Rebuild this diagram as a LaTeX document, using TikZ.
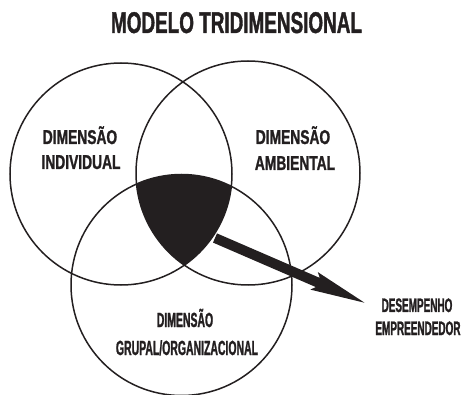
\documentclass[tikz,border=0pt]{standalone}
\usepackage{fontspec}
\setmainfont{Liberation Sans}
\newfontfamily\fTitle[FakeStretch=0.63,FakeBold=1.2]{Liberation Sans}
\newfontfamily\fTop[FakeStretch=0.69,FakeBold=1.2]{Liberation Sans}
\newfontfamily\fNarrow[FakeStretch=0.51,FakeBold=1.2]{Liberation Sans}
\definecolor{ink}{RGB}{35,31,32}
\tikzset{
  ring/.style={draw=ink, line width=1.5pt},
  titletext/.style={anchor=base, inner sep=0pt, text=ink, font=\fTitle\bfseries\fontsize{30}{30}\selectfont},
  toplabel/.style={anchor=base, inner sep=0pt, text=ink, font=\fTop\bfseries\fontsize{20}{20}\selectfont},
  botlabel/.style={anchor=base, inner sep=0pt, text=ink, font=\fNarrow\bfseries\fontsize{20.5}{20.5}\selectfont},
  outlabel/.style={anchor=base, inner sep=0pt, text=ink, font=\fNarrow\bfseries\fontsize{19.5}{19.5}\selectfont},
}
\begin{document}
\begin{tikzpicture}[x=1pt,y=-1pt]
\useasboundingbox (0,0) rectangle (463,395);
\coordinate (cL) at (121,174);
\coordinate (cR) at (248,173);
\coordinate (cB) at (181.5,285);
% core: intersection of the three circles
\begin{scope}
  \clip (cL) circle[radius=111];
  \clip (cR) circle[radius=112];
  \fill[ink] (cB) circle[radius=110.5];
\end{scope}
\draw[ring] (cL) circle[radius=111];
\draw[ring] (cR) circle[radius=112];
\draw[ring] (cB) circle[radius=110.5];
% arrow
\coordinate (core) at (215,238);
\begin{scope}[shift={(core)}, rotate=-23.4]
  \fill[ink] (0,-5) -- (112,-5) -- (108,-9.5) -- (163,0) -- (108,9.5) -- (112,5) -- (0,5) -- cycle;
\end{scope}
% texts
\node[titletext] (title) at (236.5,33) {MODELO TRIDIMENSIONAL};
\node[toplabel] (ind1) at (80,144) {DIMENSÃO};
\node[toplabel] (ind2) at (81,169) {INDIVIDUAL};
\node[toplabel] (amb1) at (293,144) {DIMENSÃO};
\node[toplabel] (amb2) at (295,170) {AMBIENTAL};
\node[botlabel] (gru1) at (185,327) {DIMENSÃO};
\node[botlabel] (gru2) at (187,355) {GRUPAL/ORGANIZACIONAL};
\node[outlabel] (des1) at (417,312) {DESEMPENHO};
\node[outlabel] (des2) at (418,335) {EMPREENDEDOR};
\end{tikzpicture}
\end{document}
